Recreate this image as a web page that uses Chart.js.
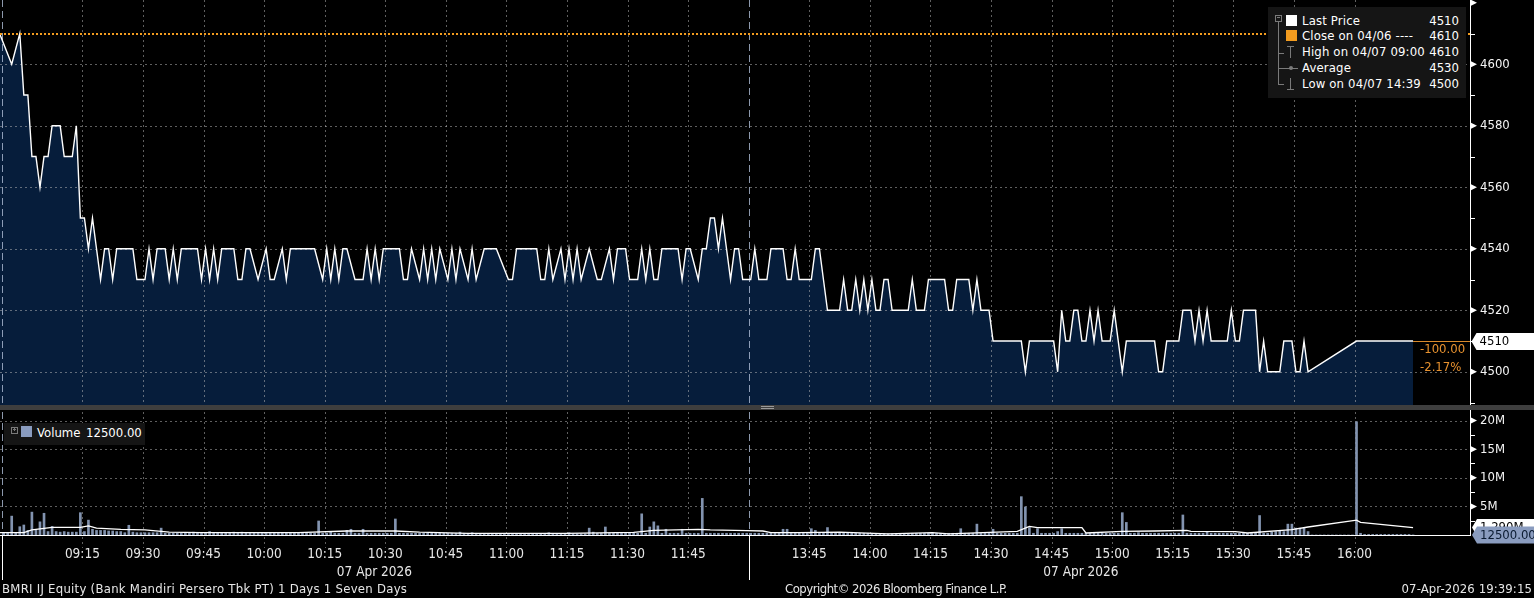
<!DOCTYPE html>
<html>
<head>
<meta charset="utf-8">
<title>BMRI IJ Equity</title>
<script src="https://cdn.jsdelivr.net/npm/chart.js@4.4.1/dist/chart.umd.min.js"></script>
<style>
  html, body { margin: 0; padding: 0; background: #000; }
  body { width: 1534px; height: 598px; position: relative; overflow: hidden;
         font-family: "DejaVu Sans Condensed", "DejaVu Sans", sans-serif; color: #fff; }
  .wrap { position: absolute; left: 0; width: 1534px; }
  #priceWrap { top: 0; height: 405px; }
  #volWrap { top: 410px; height: 175px; }
  .sep { position: absolute; left: 0; top: 405px; width: 1534px; height: 5px; background: #3e3e3e; }
  .grip { position: absolute; left: 761px; top: 406px; width: 13px; height: 1px;
          border-top: 1px solid #9a9a9a; border-bottom: 1px solid #9a9a9a; }
  .legend { position: absolute; background: #151515; font-size: 13px; line-height: 16px; }
  .row { position: absolute; left: 0; right: 0; height: 16px; }
  .lbl { position: absolute; left: 34px; top: 0; white-space: pre; letter-spacing: 0.15px; }
  .val { position: absolute; right: 7px; top: 0; }
  .sq { position: absolute; left: 18px; top: 2px; width: 11px; height: 11px; }
  .tree { position: absolute; background: #7a7a7a; }
  .box { position: absolute; width: 5px; height: 5px; border: 1px solid #7a7a7a; }
  .foot { position: absolute; top: 581px; font-size: 13px; color: #e6e6e6; white-space: pre; }
</style>
</head>
<body>
<div class="wrap" id="priceWrap"><canvas id="price"></canvas></div>
<div class="sep"></div><div class="grip"></div>
<div class="wrap" id="volWrap"><canvas id="vol"></canvas></div>

<div class="legend" style="left:1268px;top:7px;width:198px;height:91px">
  <div class="box" style="left:7px;top:8px"></div>
  <div class="tree" style="left:9px;top:10px;width:3px;height:1px"></div>
  <div class="tree" style="left:10px;top:15px;width:1px;height:62px"></div>
  <div class="tree" style="left:10px;top:46px;width:6px;height:1px"></div>
  <div class="tree" style="left:10px;top:61px;width:6px;height:1px"></div>
  <div class="tree" style="left:10px;top:77px;width:6px;height:1px"></div>
  <div class="row" style="top:6px"><div class="sq" style="background:#fff"></div><span class="lbl">Last Price</span><span class="val">4510</span></div>
  <div class="row" style="top:21px"><div class="sq" style="background:#f39c1f"></div><span class="lbl">Close on 04/06 ----</span><span class="val">4610</span></div>
  <div class="row" style="top:37px">
    <div class="tree" style="left:19px;top:2px;width:7px;height:1px"></div>
    <div class="tree" style="left:22px;top:2px;width:1px;height:12px"></div>
    <span class="lbl">High on 04/07 09:00</span><span class="val">4610</span></div>
  <div class="row" style="top:53px">
    <div class="tree" style="left:16px;top:8px;width:14px;height:1px"></div>
    <div class="tree" style="left:21px;top:6px;width:4px;height:4px;border-radius:2px"></div>
    <span class="lbl">Average</span><span class="val">4530</span></div>
  <div class="row" style="top:69px">
    <div class="tree" style="left:22px;top:2px;width:1px;height:12px"></div>
    <div class="tree" style="left:19px;top:13px;width:7px;height:1px"></div>
    <span class="lbl">Low on 04/07 14:39</span><span class="val">4500</span></div>
</div>

<div class="legend" style="left:4px;top:423px;width:141px;height:22px">
  <div class="box" style="left:7px;top:4px"></div>
  <div class="tree" style="left:9px;top:6px;width:3px;height:1px"></div>
  <div class="tree" style="left:10px;top:5px;width:1px;height:3px"></div>
  <div class="sq" style="left:17px;top:3px;background:#8a9cbf"></div>
  <span style="position:absolute;left:33px;top:2px">Volume</span>
  <span style="position:absolute;left:82px;top:2px">12500.00</span>
</div>

<div class="foot" style="left:2px;letter-spacing:0.26px">BMRI IJ Equity (Bank Mandiri Persero Tbk PT) 1 Days 1 Seven Days</div>
<div class="foot" style="left:785px;letter-spacing:-0.5px">Copyright© 2026 Bloomberg Finance L.P.</div>
<div class="foot" style="right:2px;letter-spacing:0.1px">07-Apr-2026 19:39:15</div>

<script>
// ---- data (BMRI IJ, 07 Apr 2026) ----
const prevClose = 4610;

// price line vertices (minute bars)
const priceTimes = [
  '08:54','08:57','08:59','09:00','09:01','09:02','09:03','09:04','09:05','09:06','09:07','09:09',
  '09:10','09:12','09:13','09:14','09:15','09:16','09:17','09:18','09:19','09:20','09:21','09:22',
  '09:23','09:27','09:28','09:30','09:31','09:32','09:33','09:35','09:36','09:37','09:38','09:39',
  '09:43','09:44','09:45','09:46','09:47','09:48','09:49','09:52','09:53','09:54','09:55','09:56',
  '09:58','10:00','10:01','10:02','10:04','10:05','10:06','10:12','10:14','10:15','10:16','10:17',
  '10:18','10:19','10:20','10:22','10:24','10:25','10:26','10:27','10:28','10:29','10:33','10:34',
  '10:35','10:36','10:38','10:39','10:40','10:41','10:42','10:43','10:45','10:46','10:47','10:48',
  '10:50','10:51','10:52','10:54','10:57','11:00','11:01','11:02','11:07','11:08','11:09','11:10',
  '11:11','11:13','11:14','11:15','11:16','11:17','11:18','11:20','11:22','11:23','11:25','11:26',
  '11:27','11:29','11:30','11:32','11:33','11:34','11:35','11:36','11:37','11:38','11:42','11:43',
  '11:44','11:45','11:47','11:48','11:49','11:50','11:51','11:52','11:53','11:54','11:55','11:56',
  '11:57','11:58','11:59',
  '13:30','13:31','13:32','13:34','13:35','13:38','13:39','13:40','13:41','13:42','13:45','13:46',
  '13:47','13:48','13:49','13:52','13:53','13:54','13:55','13:56','13:57','13:58','13:59','14:00',
  '14:01','14:02','14:03','14:04','14:05','14:09','14:10','14:11','14:13','14:14','14:18','14:19',
  '14:20','14:21','14:24','14:25','14:26','14:27','14:29','14:30','14:37','14:38','14:39','14:45',
  '14:46','14:47','14:48','14:49','14:50','14:51','14:52','14:53','14:54','14:55','14:56','14:57',
  '14:59','15:00','15:02','15:03','15:10','15:11','15:12','15:13','15:16','15:17','15:19','15:20',
  '15:21','15:22','15:23','15:24','15:28','15:29','15:30','15:31','15:32','15:35','15:36','15:37',
  '15:38','15:41','15:42','15:44','15:45','15:46','15:47','15:48','16:00','16:14'
];
const priceValues = [
  4610,4600,4610,4590,4590,4570,4570,4560,4570,4570,4580,4580,
  4570,4570,4580,4550,4550,4540,4550,4540,4530,4540,4540,4530,
  4540,4540,4530,4530,4540,4530,4540,4540,4530,4540,4530,4540,
  4540,4530,4540,4530,4540,4530,4540,4540,4530,4530,4540,4540,
  4530,4540,4530,4530,4540,4530,4540,4540,4530,4540,4530,4540,
  4530,4540,4540,4530,4530,4540,4530,4540,4530,4540,4540,4530,
  4530,4540,4530,4540,4530,4540,4530,4540,4530,4540,4530,4540,
  4530,4540,4530,4540,4540,4530,4530,4540,4540,4530,4530,4540,
  4530,4540,4530,4540,4530,4540,4530,4540,4530,4530,4540,4530,
  4540,4540,4530,4530,4540,4530,4540,4530,4530,4540,4540,4530,
  4540,4540,4530,4540,4540,4550,4550,4540,4550,4540,4530,4540,
  4540,4530,4530,
  4530,4540,4530,4530,4540,4540,4530,4530,4540,4530,4530,4540,
  4540,4530,4520,4520,4530,4520,4520,4530,4520,4530,4520,4530,
  4520,4520,4530,4530,4520,4520,4530,4520,4520,4530,4530,4520,
  4520,4530,4530,4520,4530,4520,4520,4510,4510,4500,4510,4510,
  4500,4520,4510,4510,4520,4520,4510,4510,4520,4510,4520,4510,
  4510,4520,4500,4510,4510,4500,4500,4510,4510,4520,4520,4510,
  4520,4510,4520,4510,4510,4520,4510,4510,4520,4520,4500,4510,
  4500,4500,4510,4510,4500,4500,4510,4500,4510,4510
];

// volume per minute, millions of shares (one row = 15 minutes)
const volStartAM = '08:55';
const volAM = [
  0.3, 0.3, 3.3, 0.3, 1.45,
  1.75, 0.8, 4.0, 0.9, 2.3, 3.8, 0.6, 1.5, 0.6, 0.5, 0.6, 0.5, 0.5, 0.5, 3.9,
  0.6, 2.6, 1.0, 0.8, 0.8, 0.8, 0.7, 0.7, 0.6, 0.6, 0.4, 1.7, 0.5, 0.4, 0.4,
  0.4, 0.4, 0.4, 0.4, 1.2, 0.3, 0.3, 0.3, 0.3, 0.3, 0.3, 0.3, 0.5, 0.3, 0.3,
  0.3, 0.6, 0.3, 0.3, 0.3, 0.3, 0.3, 0.5, 0.3, 0.5, 0.3, 0.4, 0.3, 0.3, 0.3,
  0.3, 0.3, 0.3, 0.3, 0.3, 0.3, 0.3, 0.3, 0.3, 0.3, 0.3, 0.3, 0.3, 2.45, 0.3,
  0.3, 0.5, 0.3, 0.3, 0.3, 0.8, 1.0, 0.3, 0.3, 1.0, 0.3, 0.3, 0.3, 0.3, 0.3,
  0.3, 0.3, 2.8, 0.3, 0.3, 0.3, 0.3, 0.3, 0.3, 0.3, 0.3, 0.3, 0.3, 0.3, 0.3,
  0.3, 0.3, 0.3, 0.5, 0.3, 0.3, 0.4, 0.3, 0.2, 0.2, 0.2, 0.2, 0.2, 0.2, 0.2,
  0.2, 0.2, 0.2, 0.2, 0.2, 0.2, 0.2, 0.2, 0.2, 0.2, 0.4, 0.2, 0.2, 0.2, 0.2,
  0.4, 0.2, 0.2, 0.2, 0.2, 1.2, 0.5, 0.3, 0.3, 1.4, 0.3, 0.3, 0.3, 0.3, 0.3,
  0.3, 0.3, 0.3, 3.7, 0.3, 1.4, 2.3, 1.6, 0.3, 1.0, 0.3, 0.3, 0.3, 1.0, 0.3,
  0.3, 0.3, 0.3, 6.4, 0.3, 0.3, 0.3, 0.3, 0.3, 0.3, 0.3, 0.3, 0.3, 0.3, 0.3
];
const volStartPM = '13:30';
const volPM = [
  0.3, 0.3, 0.3, 0.3, 0.3, 0.3, 0.3, 0.3, 1.0, 1.0, 0.3, 0.3, 0.3, 0.3, 0.3,
  1.1, 0.8, 0.3, 0.3, 1.3, 0.3, 0.3, 0.4, 0.3, 0.3, 0.3, 0.3, 0.3, 0.3, 0.3,
  0.3, 0.2, 0.2, 0.2, 0.2, 0.2, 0.2, 0.2, 0.2, 0.2, 0.3, 0.3, 0.3, 0.3, 0.3,
  0.3, 0.3, 0.3, 0.3, 0.3, 0.3, 0.3, 1.1, 0.3, 0.3, 0.3, 1.9, 0.3, 0.4, 0.3,
  1.0, 0.3, 0.3, 0.3, 0.3, 0.3, 0.3, 6.7, 4.9, 1.3, 0.3, 1.1, 0.3, 0.3, 0.3,
  0.3, 0.6, 1.1, 0.3, 0.3, 0.3, 0.3, 0.3, 0.3, 0.3, 0.3, 0.3, 0.3, 0.3, 0.3,
  0.3, 0.3, 3.9, 2.2, 0.3, 0.3, 0.4, 0.3, 0.3, 0.3, 0.3, 0.3, 0.3, 0.3, 0.3,
  0.3, 0.3, 3.5, 0.3, 0.3, 0.3, 0.3, 0.3, 0.5, 0.3, 0.3, 0.3, 0.3, 0.3, 0.3,
  0.3, 0.3, 0.3, 0.3, 0.3, 0.3, 3.4, 0.3, 0.3, 0.5, 0.6, 0.7, 0.6, 1.9, 1.9,
  1.2, 1.2, 1.2, 0.6, 0, 0, 0, 0, 0, 0, 0, 0, 0, 0, 0,
  19.8, 0.3, 0.1, 0.1, 0.1, 0.1, 0.1, 0.1, 0.1, 0.1, 0.1, 0.1, 0.1, 0.1, 0.0125
];

// volume moving average (white line), vertices
const maTimes = [
  '08:54','09:00','09:02','09:07','09:14','09:16','09:18','09:24','09:30','09:36','09:44','10:08',
  '10:20','10:32','10:38','10:50','11:14','11:31','11:36','11:47','11:50','11:59',
  '13:33','13:35','13:42','13:52','14:04','14:15','14:19','14:36','14:39','14:41','14:52','14:53',
  '15:02','15:10','15:18','15:19','15:30','15:33','15:44','15:48','16:00','16:01','16:14'
];
const maValues = [
  0.4, 0.4, 0.9, 1.35, 1.35, 1.6, 1.2, 1.0, 0.9, 0.5, 0.4, 0.4,
  0.7, 0.7, 0.5, 0.3, 0.3, 0.45, 0.8, 1.0, 0.9, 0.75,
  0.7, 0.4, 0.4, 0.5, 0.2, 0.4, 0.2, 0.65, 1.5, 1.3, 1.3, 0.35,
  0.65, 0.7, 0.8, 0.65, 0.6, 0.35, 0.95, 1.4, 2.6, 2.2, 1.29
];

const tickLabels = ['09:15','09:30','09:45','10:00','10:15','10:30','10:45','11:00','11:15','11:30','11:45',
                    '13:45','14:00','14:15','14:30','14:45','15:00','15:15','15:30','15:45','16:00'];
const priceTicks = [4500, 4520, 4540, 4560, 4580, 4600];
const volTicks = [5, 10, 15, 20];
const dateLabel = '07 Apr 2026';

// ---- time axis: trading minutes, lunch break removed ----
function toSlot(t) {
  const [h, m] = t.split(':').map(Number);
  const mins = h * 60 + m;
  return mins >= 810 ? 180 + mins - 810 : mins - 540;
}
function slotLabel(s) {
  const mins = s >= 180 ? 810 + s - 180 : 540 + s;
  return String(Math.floor(mins / 60)).padStart(2, '0') + ':' + String(mins % 60).padStart(2, '0');
}
const X_MIN = -5.4, X_MAX = 358.6;
const BREAKS = [-4.9, 180];
const tickSlots = tickLabels.map(toSlot);

const pricePts = priceTimes.map((t, i) => ({ x: toSlot(t) + 0.5, y: priceValues[i] }));
const volPts = volAM.map((v, i) => ({ x: toSlot(volStartAM) + i + 0.5, y: v }))
  .concat(volPM.map((v, i) => ({ x: toSlot(volStartPM) + i + 0.5, y: v })));
const maPts = maTimes.map((t, i) => ({ x: toSlot(t) + 0.5, y: maValues[i] }));

const FONT = '"DejaVu Sans Condensed", "DejaVu Sans", sans-serif';
Chart.defaults.font.family = FONT;
Chart.defaults.font.size = 13;
Chart.defaults.color = '#f0f0f0';

// keep the plot area flush with the canvas edges
function fitAxis(size) {
  return s => {
    if (s.isHorizontal()) s.height = size; else s.width = size;
    s.paddingTop = 0; s.paddingBottom = 0; s.paddingLeft = 0; s.paddingRight = 0;
  };
}

function line(ctx, x1, y1, x2, y2) {
  ctx.beginPath(); ctx.moveTo(x1, y1); ctx.lineTo(x2, y2); ctx.stroke();
}

function drawGrid(chart, opts) {
  const { ctx, chartArea: a, scales: { x, y } } = chart;
  ctx.save();
  ctx.lineWidth = 1;
  ctx.strokeStyle = 'rgba(190,190,190,0.5)';
  ctx.setLineDash([2, 3]);
  opts.yLines.forEach(v => {
    const py = Math.round(y.getPixelForValue(v)) + 0.5;
    line(ctx, a.left, py, a.right, py);
  });
  tickSlots.forEach(s => {
    const px = Math.round(x.getPixelForValue(s)) + 0.5;
    line(ctx, px, a.top, px, a.bottom + opts.extend);
  });
  ctx.strokeStyle = 'rgba(175,190,215,0.8)';
  ctx.setLineDash([7, 4]);
  BREAKS.forEach(s => {
    const px = Math.round(x.getPixelForValue(s)) + 0.5;
    line(ctx, px, a.top, px, a.bottom);
  });
  ctx.restore();
}

function drawAxisTicks(chart, majors, minors) {
  const { ctx, chartArea: a, scales: { y } } = chart;
  ctx.save();
  ctx.strokeStyle = '#fff';
  ctx.fillStyle = '#fff';
  ctx.lineWidth = 1;
  line(ctx, a.right + 0.5, 0, a.right + 0.5, a.bottom + 1);
  minors.forEach(v => {
    const py = Math.round(y.getPixelForValue(v)) + 0.5;
    line(ctx, a.right, py, a.right + 5, py);
  });
  majors.forEach(v => {
    const py = y.getPixelForValue(v);
    ctx.beginPath();
    ctx.moveTo(a.right, py - 3.5); ctx.lineTo(a.right + 7, py); ctx.lineTo(a.right, py + 3.5);
    ctx.closePath(); ctx.fill();
  });
  ctx.restore();
}

function drawTag(ctx, right, xTip, yc, text, bg, fg) {
  ctx.save();
  ctx.beginPath();
  ctx.moveTo(xTip, yc);
  ctx.lineTo(xTip + 5, yc - 8.5);
  ctx.lineTo(right, yc - 8.5);
  ctx.lineTo(right, yc + 8.5);
  ctx.lineTo(xTip + 5, yc + 8.5);
  ctx.closePath();
  ctx.fillStyle = bg; ctx.fill();
  ctx.fillStyle = fg;
  ctx.font = '13px ' + FONT;
  ctx.textBaseline = 'middle'; ctx.textAlign = 'left';
  ctx.fillText(text, xTip + 8, yc + 0.5);
  ctx.restore();
}

const bbGrid = {
  id: 'bbGrid',
  beforeDatasetDraw(chart, args, opts) {
    if (args.index === opts.under) drawGrid(chart, opts);
  },
  afterDraw(chart, args, opts) {
    if (opts.after) opts.after(chart);
  }
};

// ---- price panel ----
new Chart(document.getElementById('price'), {
  type: 'line',
  data: {
    datasets: [
      { data: pricePts, borderColor: '#ffffff', borderWidth: 1.4, pointRadius: 0, fill: false, tension: 0 },
      { data: pricePts, borderWidth: 0, pointRadius: 0, fill: 'start', backgroundColor: '#061d3b', tension: 0 }
    ]
  },
  options: {
    animation: false, responsive: true, maintainAspectRatio: false,
    layout: { padding: 0 },
    plugins: {
      legend: { display: false }, tooltip: { enabled: false },
      bbGrid: {
        under: 0, extend: 0, yLines: priceTicks,
        after(chart) {
          const { ctx, chartArea: a, scales: { x, y } } = chart;
          drawAxisTicks(chart, [4500, 4520, 4540, 4560, 4580, 4600, 4620], [4490, 4510, 4530, 4550, 4570, 4590, 4610]);
          ctx.save();
          // previous close, dotted orange
          ctx.strokeStyle = '#f39c1f'; ctx.lineWidth = 2; ctx.setLineDash([2, 2]);
          const yc = Math.round(y.getPixelForValue(prevClose));
          line(ctx, a.left, yc, a.right, yc);
          // last price continuation to the axis
          const last = priceValues[priceValues.length - 1];
          const yl = Math.round(y.getPixelForValue(last)) + 0.5;
          const xl = x.getPixelForValue(pricePts[pricePts.length - 1].x);
          ctx.setLineDash([]); ctx.lineWidth = 1; ctx.strokeStyle = '#d98a2c';
          line(ctx, xl, yl, a.right, yl);
          // change vs previous close
          const chg = last - prevClose;
          ctx.fillStyle = '#e8922f';
          ctx.font = '13px ' + FONT;
          ctx.textBaseline = 'middle'; ctx.textAlign = 'left';
          ctx.fillText(chg.toFixed(2), 1420, yl + 8.5);
          ctx.fillText((chg / prevClose * 100).toFixed(2) + '%', 1420, yl + 26);
          ctx.restore();
          drawTag(ctx, chart.width, a.right + 1.5, yl, String(last), '#ffffff', '#000000');
        }
      }
    },
    scales: {
      x: { type: 'linear', min: X_MIN, max: X_MAX, display: false },
      y: {
        position: 'right', min: 4489.2, max: 4620.9,
        grid: { display: false, drawTicks: false }, border: { display: false },
        afterBuildTicks: s => { s.ticks = priceTicks.map(v => ({ value: v })); },
        afterFit: fitAxis(64),
        ticks: { padding: 10, color: '#f4f4f4', autoSkip: false, callback: v => String(v) }
      }
    }
  },
  plugins: [bbGrid]
});

// ---- volume panel ----
new Chart(document.getElementById('vol'), {
  type: 'bar',
  data: {
    datasets: [
      { type: 'line', data: maPts, borderColor: '#ffffff', borderWidth: 1.3, pointRadius: 0, fill: false, tension: 0 },
      { type: 'bar', data: volPts, backgroundColor: '#8293af', barThickness: 2, borderWidth: 0 }
    ]
  },
  options: {
    animation: false, responsive: true, maintainAspectRatio: false,
    layout: { padding: { top: 2, left: 0, right: 0, bottom: 0 } },
    plugins: {
      legend: { display: false }, tooltip: { enabled: false },
      bbGrid: {
        under: 1, extend: 13, yLines: volTicks,
        after(chart) {
          const { ctx, chartArea: a, scales: { x, y } } = chart;
          drawAxisTicks(chart, [5, 10, 15, 20], [2.5, 7.5, 12.5, 17.5]);
          ctx.save();
          ctx.strokeStyle = '#ffffff'; ctx.lineWidth = 1;
          line(ctx, a.left, a.bottom + 0.5, a.right, a.bottom + 0.5);
          BREAKS.forEach(s => {
            const px = Math.round(x.getPixelForValue(s)) + 0.5;
            line(ctx, px, a.bottom, px, a.bottom + 45);
          });
          // session date labels
          ctx.fillStyle = '#e6e6e6';
          ctx.font = '13.5px ' + FONT;
          ctx.textAlign = 'center'; ctx.textBaseline = 'middle';
          const xEnd = x.getPixelForValue(volPts[volPts.length - 1].x);
          const xBrk = x.getPixelForValue(180);
          ctx.fillText(dateLabel, (a.left + xBrk) / 2, a.bottom + 37);
          ctx.fillText(dateLabel, (xBrk + xEnd) / 2, a.bottom + 37);
          ctx.restore();
          const lastMa = maValues[maValues.length - 1];
          drawTag(ctx, chart.width, a.right + 2, y.getPixelForValue(lastMa), lastMa.toFixed(3) + 'M', '#ffffff', '#000000');
          const lastVol = volPM[volPM.length - 1];
          drawTag(ctx, chart.width, a.right + 2, y.getPixelForValue(lastVol), (lastVol * 1e6).toFixed(2), '#8a9cbf', '#0a1a30');
        }
      }
    },
    scales: {
      x: {
        type: 'linear', min: X_MIN, max: X_MAX, offset: false,
        grid: { display: false, drawTicks: false }, border: { display: false },
        afterBuildTicks: s => { s.ticks = tickSlots.map(v => ({ value: v })); },
        afterFit: fitAxis(50),
        ticks: { padding: 11, color: '#e6e6e6', autoSkip: false, maxRotation: 0,
                 font: { size: 13.5 }, callback: v => slotLabel(v) }
      },
      y: {
        position: 'right', min: 0, max: 21.5,
        grid: { display: false, drawTicks: false }, border: { display: false },
        afterBuildTicks: s => { s.ticks = volTicks.map(v => ({ value: v })); },
        afterFit: fitAxis(64),
        ticks: { padding: 10, color: '#f4f4f4', autoSkip: false, callback: v => v + 'M' }
      }
    }
  },
  plugins: [bbGrid]
});
</script>
</body>
</html>
